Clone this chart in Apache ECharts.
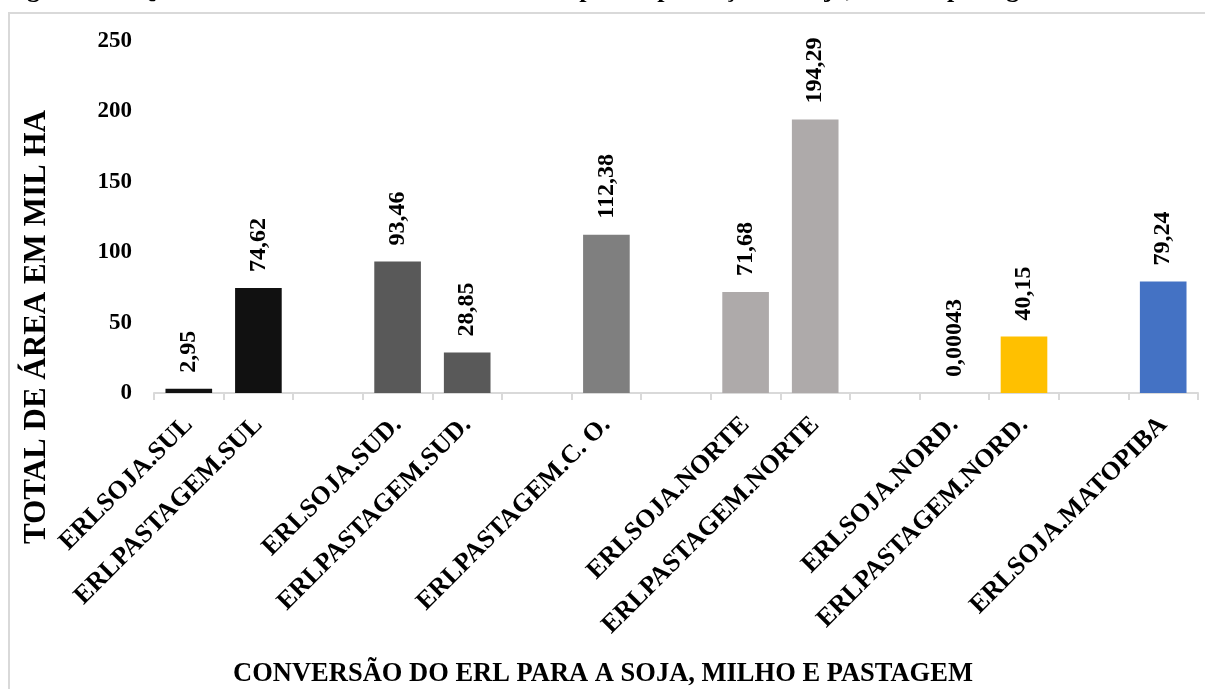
<!DOCTYPE html>
<html>
<head>
<meta charset="utf-8">
<script src="https://cdn.jsdelivr.net/npm/echarts@6/dist/echarts.min.js"></script>
<style>html,body{margin:0;padding:0;background:#fff;}#c{width:1205px;height:689px;}</style>
</head>
<body>
<div id="c"></div>
<script>
var categories = ['ERLSOJA.SUL','ERLPASTAGEM.SUL','','ERLSOJA.SUD.','ERLPASTAGEM.SUD.','','ERLPASTAGEM.C. O.','','ERLSOJA.NORTE','ERLPASTAGEM.NORTE','','ERLSOJA.NORD.','ERLPASTAGEM.NORD.','','ERLSOJA.MATOPIBA'];
var values = [2.95, 74.62, null, 93.46, 28.85, null, 112.38, null, 71.68, 194.29, null, 0.00043, 40.15, null, 79.24];
var valueLabels = ['2,95','74,62','','93,46','28,85','','112,38','','71,68','194,29','','0,00043','40,15','','79,24'];
var barColors = ['#111111','#111111',null,'#595959','#595959',null,'#7f7f7f',null,'#aeaaaa','#aeaaaa',null,'#ffc000','#ffc000',null,'#4472c4'];
var yTicks = [0,50,100,150,200,250];
var yTitle = 'TOTAL DE ÁREA EM MIL HA';
var xTitle = 'CONVERSÃO DO ERL PARA A SOJA, MILHO E PASTAGEM';
var caption = 'Figura 11 – Quantidade de área de ERL convertida para a produção de soja, milho e pastagem';

var FONT = '"Liberation Serif","Times New Roman",serif';
var chart = echarts.init(document.getElementById('c'));
var data = values.map(function(v, i){
  return v === null ? null : {value: v, itemStyle: {color: barColors[i]}};
});
chart.setOption({
  animation: false,
  backgroundColor: '#fff',
  grid: {left: 154, right: 7, top: 41, bottom: 296, containLabel: false},
  xAxis: {
    type: 'category',
    data: categories,
    boundaryGap: true,
    axisLine: {lineStyle: {color: '#d9d9d9', width: 2}},
    axisTick: {show: true, length: 7, lineStyle: {color: '#d9d9d9', width: 2}, interval: 0},
    axisLabel: {interval: 0, rotate: 45, margin: 28, color: '#000', fontFamily: FONT, fontWeight: 'bold', fontSize: 26}
  },
  yAxis: {
    type: 'value', min: 0, max: 250, interval: 50,
    axisLine: {show: false}, axisTick: {show: false}, splitLine: {show: false},
    axisLabel: {color: '#000', fontFamily: FONT, fontWeight: 'bold', fontSize: 23, margin: 22,
      formatter: function(v){ return yTicks.indexOf(v) >= 0 ? String(v) : ''; }}
  },
  series: [{
    type: 'bar',
    data: data,
    barWidth: '67%',
    label: {
      show: true, position: 'top', rotate: 90, align: 'left', verticalAlign: 'middle', distance: 16,
      color: '#000', fontFamily: FONT, fontWeight: 'bold', fontSize: 24,
      formatter: function(p){ return valueLabels[p.dataIndex]; }
    }
  }],
  graphic: [
    {type: 'rect', shape: {x: 9, y: 13, width: 1210, height: 700}, style: {fill: null, stroke: '#d9d9d9', lineWidth: 2}, silent: true},
    {type: 'text', x: 4, y: 3, style: {text: caption, fontFamily: FONT, fontWeight: 'bold', fontSize: 26, fill: '#000', verticalAlign: 'bottom'}},
    {type: 'text', x: 37, y: 327, rotation: Math.PI/2, style: {text: yTitle, fontFamily: FONT, fontWeight: 'bold', fontSize: 31, fill: '#000', align: 'center', verticalAlign: 'middle'}},
    {type: 'text', x: 603, y: 674, style: {text: xTitle, fontFamily: FONT, fontWeight: 'bold', fontSize: 26.5, fill: '#000', align: 'center', verticalAlign: 'middle'}}
  ]
});
</script>
</body>
</html>
